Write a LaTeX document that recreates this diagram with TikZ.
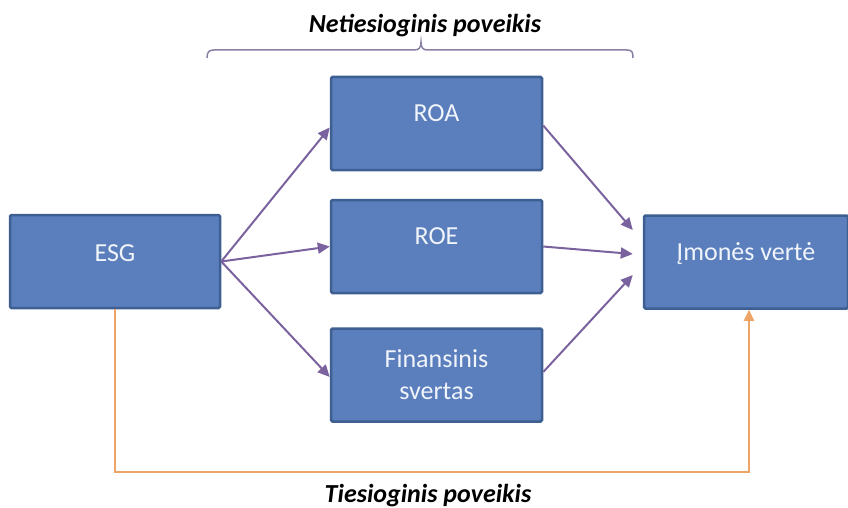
\documentclass[tikz,border=0pt]{standalone}
\usepackage{fontspec}
\setmainfont{Carlito}
\usetikzlibrary{arrows.meta,calc}
\definecolor{boxfill}{HTML}{5B7EBC}
\definecolor{boxline}{HTML}{3E5F91}
\definecolor{txtc}{HTML}{F0F4FB}
\definecolor{arr}{HTML}{7A629E}
\definecolor{orng}{HTML}{EFA467}
\definecolor{brc}{HTML}{8A7FA2}
\begin{document}
\begin{tikzpicture}[x=1pt,y=-1pt,
  box/.style={draw=boxline,line width=2.5pt,fill=boxfill,rounded corners=1.5pt,
              minimum height=93pt,inner sep=0pt},
  boxtxt/.style={text=txtc,font=\fontsize{26}{32}\selectfont,align=center},
  purplearrow/.style={draw=arr,line width=2pt,-{Triangle[length=12pt,width=11pt]}},
  orangearrow/.style={draw=orng,line width=2pt,-{Triangle[length=11pt,width=10pt]}},
  caption/.style={font=\fontsize{26}{30}\selectfont\bfseries\itshape,text=black}]
\useasboundingbox (0,0) rectangle (848,508);
% boxes
\node[box,minimum width=210pt,label={[boxtxt,yshift=8pt]center:ESG}] (esg) at (115,261.5) {};
\node[box,minimum width=211pt,label={[boxtxt,yshift=10pt]center:ROA}] (roa) at (436.5,123.5) {};
\node[box,minimum width=211pt,label={[boxtxt,yshift=10pt]center:ROE}] (roe) at (436.5,246.5) {};
\node[box,minimum width=211pt,boxtxt] (fin) at (436.5,375) {Finansinis\\svertas};
\node[box,minimum width=204pt,label={[boxtxt,yshift=8pt]center:Įmonės vertė}] (imv) at (746,262) {};
% indirect arrows
\draw[purplearrow] (esg.east) -- ([yshift=-4pt]roa.west);
\draw[purplearrow] (esg.east) -- (roe.west);
\draw[purplearrow] (esg.east) -- ([yshift=-2pt]fin.west);
\draw[purplearrow] ([yshift=-2pt]roa.east) -- ([xshift=-10pt,yshift=32pt]imv.west);
\draw[purplearrow] (roe.east) -- ([xshift=-10pt,yshift=8pt]imv.west);
\draw[purplearrow] ([yshift=3pt]fin.east) -- ([xshift=-10pt,yshift=-13pt]imv.west);
% direct arrow
\draw[orangearrow] (esg.south) -- (esg.south |- 0,472) -| ([xshift=3pt]imv.south);
% brace
\draw[brc,line width=1.5pt] (207,58) .. controls (207,52) and (209,50) .. (214,50)
  -- (414,50) .. controls (419,50) and (421,48) .. (421,42)
  .. controls (421,48) and (423,50) .. (428,50)
  -- (627,50) .. controls (632,50) and (633,52) .. (633,58);
% captions
\node[caption] (top) at (425,26) {Netiesioginis poveikis};
\node[caption] (bot) at (428,496) {Tiesioginis poveikis};
\end{tikzpicture}
\end{document}
